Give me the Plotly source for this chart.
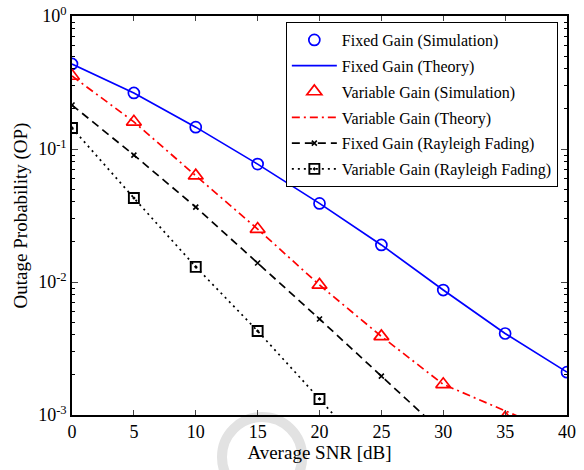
import plotly.graph_objects as go

snr = [0, 5, 10, 15, 20, 25, 30, 35, 40]

fixed_sim = [0.436, 0.264, 0.146, 0.077, 0.039, 0.019, 0.0087, 0.0041, 0.0021]
fixed_theory = [0.436, 0.264, 0.146, 0.077, 0.039, 0.019, 0.0087, 0.0041, 0.0021]

var_snr = [0, 5, 10, 15, 20, 25, 30, 35]
var_sim = [0.354, 0.160, 0.063, 0.025, 0.0095, 0.0039, 0.0017, 0.00095]
var_theory = [0.354, 0.160, 0.063, 0.025, 0.0095, 0.0039, 0.0017, 0.00107, 0.00068]

ray_fixed_snr = [0, 5, 10, 15, 20, 25, 30]
ray_fixed = [0.214, 0.090, 0.0366, 0.0139, 0.00527, 0.00196, 0.00073]

ray_var_snr = [0, 5, 10, 15, 20, 25]
ray_var = [0.144, 0.0428, 0.0130, 0.00428, 0.00132, 0.0004]

ytick_vals = [1, 0.1, 0.01, 0.001]
ytick_text = ["10<sup>0</sup>", "10<sup>-1</sup>", "10<sup>-2</sup>", "10<sup>-3</sup>"]
xtick_vals = [0, 5, 10, 15, 20, 25, 30, 35, 40]

FONT = "'Liberation Serif', serif"

fig = go.Figure()

fig.add_trace(go.Scatter(
    x=snr, y=fixed_sim, mode="markers", name="Fixed Gain (Simulation)",
    legendgroup="a",
    marker=dict(symbol="circle-open", size=11, color="#0000ff", line=dict(width=1.7, color="#0000ff"))))
fig.add_trace(go.Scatter(
    x=snr, y=fixed_theory, mode="lines", name="Fixed Gain (Theory)",
    legendgroup="b",
    line=dict(color="#0000ff", width=1.7)))
fig.add_trace(go.Scatter(
    x=var_snr, y=var_sim, mode="markers", name="Variable Gain (Simulation)",
    legendgroup="c",
    marker=dict(symbol="triangle-up-open", size=13, color="#ff0000", line=dict(width=1.7, color="#ff0000"))))
fig.add_trace(go.Scatter(
    x=snr, y=var_theory, mode="lines", name="Variable Gain (Theory)",
    legendgroup="d",
    line=dict(color="#ff0000", width=1.7, dash="8px,4px,2px,4px")))
fig.add_trace(go.Scatter(
    x=ray_fixed_snr, y=ray_fixed, mode="lines+markers", name="Fixed Gain (Rayleigh Fading)",
    legendgroup="e",
    line=dict(color="#000000", width=1.7, dash="8px,5px"),
    marker=dict(symbol="x-thin-open", size=5, color="#000000", line=dict(width=1.6, color="#000000"))))
fig.add_trace(go.Scatter(
    x=ray_var_snr, y=ray_var, mode="lines+markers", name="Variable Gain (Rayleigh Fading)",
    legendgroup="f",
    line=dict(color="#000000", width=1.7, dash="2px,4px"),
    marker=dict(symbol="square-open-dot", size=10, color="#000000", line=dict(width=1.9, color="#000000"))))

# faint watermark ring below the axis
fig.add_shape(type="circle", xref="paper", yref="paper",
              x0=0.303, x1=0.465, y0=-0.2055, y1=-0.005,
              line=dict(color="#e2e2e2", width=10), layer="below")

fig.update_layout(
    width=584, height=470,
    margin=dict(l=72, r=17, t=16, b=55),
    paper_bgcolor="white", plot_bgcolor="white",
    font=dict(family=FONT, size=18, color="black"),
    showlegend=True,
    legend=dict(
        x=0.432, y=0.985, xanchor="left", yanchor="top",
        bgcolor="white", bordercolor="black", borderwidth=1,
        font=dict(family=FONT, size=16, color="black"),
        itemwidth=45, tracegroupgap=2, traceorder="grouped",
    ),
    xaxis=dict(
        range=[0, 40], tickvals=xtick_vals, ticks="inside", ticklen=5, tickwidth=1,
        showline=True, linecolor="black", linewidth=1.5, mirror="ticks",
        showgrid=False, zeroline=False, automargin=False, ticklabeloverflow="allow",
        title=dict(text="Average SNR [dB]", font=dict(family=FONT, size=19), standoff=4),
        tickfont=dict(family=FONT, size=18),
    ),
    yaxis=dict(
        type="log", range=[-3, 0], tickvals=ytick_vals, ticktext=ytick_text,
        ticks="inside", ticklen=6, tickwidth=1,
        showline=True, linecolor="black", linewidth=1.5, mirror="ticks",
        showgrid=False, zeroline=False, automargin=False, ticklabeloverflow="allow",
        minor=dict(ticks="inside", ticklen=3, tickcolor="black", dtick="D1", showgrid=False),
        title=dict(text="Outage Probability (OP)", font=dict(family=FONT, size=19), standoff=6),
        tickfont=dict(family=FONT, size=18),
    ),
)

fig.write_html("out.html", config={"displayModeBar": False},
               post_script="document.body.style.margin='0';")
